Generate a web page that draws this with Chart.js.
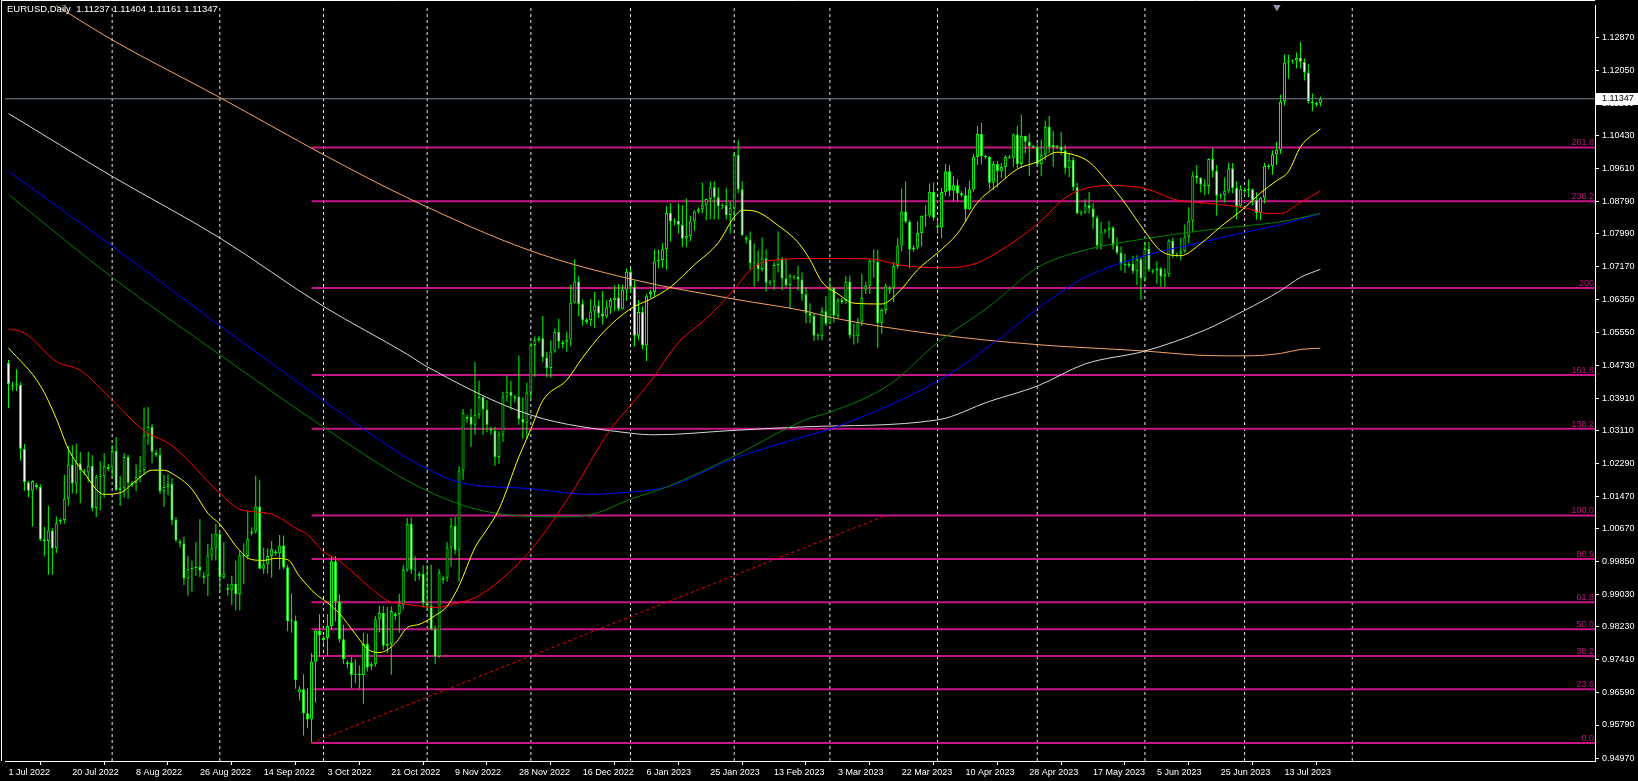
<!DOCTYPE html>
<html>
<head>
<meta charset="utf-8">
<script src="https://cdn.jsdelivr.net/npm/chart.js@4.4.1/dist/chart.umd.min.js"></script>
<style>
  html, body { margin: 0; padding: 0; background: #000; overflow: hidden; }
  #wrap { position: relative; width: 1638px; height: 781px; }
</style>
</head>
<body>
<div id="wrap"><canvas id="chart" width="1638" height="781"></canvas></div>
<script>
// EURUSD daily, one entry per bar (Sunday bars included), bar 0 = 1 Jul 2022
const opens = [
  1.0479,1.0420,1.0423,1.0424,1.0265,1.0182,1.0161,1.0175,1.0170,1.0040,
  1.0036,1.0062,1.0018,1.0085,1.0088,1.0141,1.0226,1.0179,1.0229,1.0208,
  1.0206,1.0223,1.0118,1.0196,1.0197,1.0220,1.0219,1.0260,1.0163,1.0167,
  1.0245,1.0175,1.0180,1.0195,1.0212,1.0298,1.0320,1.0255,1.0250,1.0160,
  1.0170,1.0178,1.0088,1.0035,1.0030,0.9943,0.9966,0.9969,0.9972,0.9945,
  0.9950,1.0000,1.0018,1.0054,0.9946,0.9920,0.9915,0.9930,0.9904,1.0001,
  0.9999,1.0055,1.0060,1.0122,0.9967,0.9978,0.9999,1.0010,1.0005,1.0025,
  0.9971,0.9837,0.9838,0.9660,0.9668,0.9608,0.9593,0.9736,0.9814,0.9790,
  0.9795,0.9825,0.9986,0.9886,0.9792,0.9730,0.9735,0.9704,0.9706,0.9703,
  0.9780,0.9725,0.9730,0.9842,0.9857,0.9776,0.9780,0.9850,0.9855,0.9878,
  0.9965,1.0079,0.9965,0.9950,0.9955,0.9882,0.9875,0.9817,0.9749,0.9940,
  0.9945,1.0020,1.0074,1.0013,1.0211,1.0340,1.0345,1.0325,1.0350,1.0394,
  1.0363,1.0315,1.0310,1.0245,1.0301,1.0395,1.0407,1.0390,1.0395,1.0339,
  1.0330,1.0405,1.0523,1.0535,1.0540,1.0492,1.0466,1.0507,1.0556,1.0525,
  1.0530,1.0537,1.0628,1.0681,1.0625,1.0580,1.0585,1.0606,1.0621,1.0601,
  1.0594,1.0617,1.0635,1.0641,1.0613,1.0660,1.0705,1.0668,1.0546,1.0605,
  1.0522,1.0650,1.0655,1.0731,1.0734,1.0761,1.0851,1.0830,1.0832,1.0822,
  1.0787,1.0794,1.0830,1.0855,1.0860,1.0870,1.0886,1.0915,1.0890,1.0868,
  1.0870,1.0846,1.0863,1.0995,1.0910,1.0790,1.0785,1.0727,1.0726,1.0712,
  1.0738,1.0678,1.0680,1.0722,1.0738,1.0688,1.0672,1.0690,1.0692,1.0686,
  1.0649,1.0602,1.0596,1.0546,1.0545,1.0607,1.0576,1.0666,1.0596,1.0630,
  1.0635,1.0681,1.0547,1.0545,1.0581,1.0660,1.0670,1.0733,1.0730,1.0577,
  1.0610,1.0660,1.0665,1.0719,1.0770,1.0855,1.0829,1.0760,1.0765,1.0801,
  1.0844,1.0845,1.0904,1.0820,1.0815,1.0903,1.0955,1.0906,1.0920,1.0900,
  1.0895,1.0860,1.0910,1.0990,1.1047,1.0990,1.0990,1.0926,1.0973,1.0955,
  1.0965,1.0990,1.0988,1.1046,1.0973,1.1042,1.1028,1.1015,1.1015,1.0973,
  1.0996,1.1065,1.1015,1.1015,1.1015,1.1006,1.0962,1.0983,1.0915,1.0850,
  1.0852,1.0870,1.0862,1.0840,1.0770,1.0805,1.0808,1.0815,1.0770,1.0752,
  1.0724,1.0720,1.0725,1.0706,1.0736,1.0688,1.0762,1.0705,1.0708,1.0713,
  1.0693,1.0699,1.0782,1.0748,1.0750,1.0756,1.0792,1.0832,1.0944,1.0938,
  1.0922,1.0918,1.0985,1.0956,1.0894,1.0895,1.0906,1.0962,1.0913,1.0868,
  1.0905,1.0908,1.0910,1.0883,1.0851,1.0889,1.0965,1.0968,1.0997,1.1008,
  1.1128,1.1225,1.1228,1.1230,1.1236,1.1227,1.1200,1.1128,1.1120,1.11237
];
const highs = [
  1.0486,1.0432,1.0463,1.0430,1.0277,1.0185,1.0187,1.0180,1.0177,1.0071,
  1.0124,1.0068,1.0097,1.0092,1.0201,1.0272,1.0274,1.0278,1.0257,1.0215,
  1.0258,1.0249,1.0201,1.0234,1.0254,1.0228,1.0274,1.0294,1.0197,1.0254,
  1.0250,1.0185,1.0227,1.0247,1.0368,1.0369,1.0327,1.0262,1.0267,1.0200,
  1.0202,1.0192,1.0096,1.0040,1.0047,0.9999,0.9988,1.0033,1.0090,0.9960,
  1.0029,1.0055,1.0079,1.0057,1.0033,0.9930,0.9950,0.9988,1.0011,1.0030,
  1.0112,1.0070,1.0198,1.0187,1.0020,1.0018,1.0036,1.0015,1.0051,1.0050,
  0.9977,0.9906,0.9851,0.9675,0.9705,0.9671,0.9757,0.9816,0.9854,0.9800,
  0.9855,0.9999,0.9999,0.9903,0.9828,0.9740,0.9748,0.9742,0.9727,0.9808,
  0.9806,0.9735,0.9850,0.9875,0.9875,0.9873,0.9874,0.9860,0.9905,0.9976,
  1.0093,1.0094,0.9998,0.9960,0.9976,0.9976,0.9977,0.9826,0.9966,0.9950,
  1.0033,1.0094,1.0096,1.0222,1.0364,1.0350,1.0364,1.0481,1.0435,1.0394,
  1.0386,1.0320,1.0320,1.0310,1.0407,1.0448,1.0434,1.0400,1.0497,1.0393,
  1.0429,1.0529,1.0545,1.0545,1.0595,1.0506,1.0534,1.0564,1.0588,1.0535,
  1.0556,1.0673,1.0736,1.0695,1.0637,1.0590,1.0637,1.0655,1.0634,1.0657,
  1.0634,1.0640,1.0671,1.0675,1.0673,1.0713,1.0712,1.0683,1.0635,1.0619,
  1.0650,1.0660,1.0760,1.0760,1.0776,1.0868,1.0875,1.0838,1.0875,1.0870,
  1.0887,1.0844,1.0858,1.0865,1.0927,1.0887,1.0929,1.0930,1.0915,1.0875,
  1.0914,1.0878,1.1000,1.1033,1.0930,1.0795,1.0805,1.0775,1.0758,1.0790,
  1.0760,1.0685,1.0730,1.0805,1.0741,1.0738,1.0700,1.0697,1.0720,1.0703,
  1.0667,1.0627,1.0601,1.0552,1.0617,1.0645,1.0691,1.0667,1.0640,1.0640,
  1.0694,1.0696,1.0575,1.0590,1.0700,1.0680,1.0736,1.0760,1.0759,1.0615,
  1.0676,1.0670,1.0730,1.0788,1.0912,1.0930,1.0834,1.0770,1.0830,1.0845,
  1.0870,1.0924,1.0927,1.0830,1.0914,1.0973,1.0970,1.0943,1.0935,1.0905,
  1.0915,1.0931,1.0998,1.1068,1.1075,1.0995,1.0992,1.0980,1.0980,1.0975,
  1.0995,1.0995,1.1049,1.1067,1.1095,1.1043,1.1048,1.1020,1.1024,1.1033,
  1.1080,1.1092,1.1055,1.1020,1.1053,1.1020,1.1000,1.0990,1.0927,1.0858,
  1.0885,1.0903,1.0876,1.0845,1.0829,1.0812,1.0831,1.0818,1.0790,1.0768,
  1.0750,1.0730,1.0745,1.0746,1.0740,1.0779,1.0779,1.0712,1.0731,1.0717,
  1.0714,1.0786,1.0790,1.0752,1.0790,1.0823,1.0865,1.0954,1.0970,1.0940,
  1.0935,1.0987,1.1012,1.0970,1.0900,1.0939,1.0976,1.0975,1.0930,1.0920,
  1.0912,1.0935,1.0912,1.0902,1.0890,1.0976,1.0972,1.1006,1.1028,1.1145,
  1.1245,1.1244,1.1232,1.1250,1.1276,1.1234,1.1222,1.1148,1.1128,1.11404
];
const lows = [
  1.0366,1.0410,1.0409,1.0236,1.0161,1.0144,1.0072,1.0165,1.0036,0.9998,
  0.9952,0.9952,1.0006,1.0078,1.0079,1.0124,1.0154,1.0153,1.0130,1.0200,
  1.0182,1.0110,1.0095,1.0112,1.0144,1.0210,1.0193,1.0160,1.0123,1.0144,
  1.0141,1.0170,1.0160,1.0182,1.0201,1.0275,1.0229,1.0245,1.0153,1.0121,
  1.0150,1.0076,1.0033,1.0020,0.9927,0.9900,0.9910,0.9950,0.9946,0.9930,
  0.9900,0.9988,0.9988,0.9910,0.9942,0.9900,0.9877,0.9864,0.9864,0.9929,
  0.9990,1.0050,1.0055,0.9966,0.9955,0.9955,0.9945,1.0000,0.9966,0.9966,
  0.9812,0.9808,0.9669,0.9640,0.9553,0.9571,0.9536,0.9635,0.9749,0.9780,
  0.9751,0.9815,0.9836,0.9784,0.9731,0.9720,0.9671,0.9683,0.9670,0.9632,
  0.9712,0.9715,0.9724,0.9809,0.9766,0.9757,0.9704,0.9840,0.9808,0.9866,
  0.9960,0.9954,0.9937,0.9940,0.9871,0.9862,0.9815,0.9730,0.9746,0.9930,
  0.9935,0.9972,1.0003,0.9935,1.0188,1.0330,1.0270,1.0300,1.0340,1.0300,
  1.0306,1.0300,1.0223,1.0228,1.0282,1.0382,1.0363,1.0380,1.0325,1.0290,
  1.0290,1.0391,1.0444,1.0530,1.0480,1.0443,1.0442,1.0504,1.0514,1.0515,
  1.0506,1.0520,1.0626,1.0594,1.0570,1.0575,1.0570,1.0566,1.0590,1.0574,
  1.0590,1.0600,1.0607,1.0607,1.0611,1.0633,1.0652,1.0519,1.0535,1.0512,
  1.0483,1.0640,1.0643,1.0713,1.0715,1.0710,1.0780,1.0820,1.0800,1.0767,
  1.0766,1.0781,1.0807,1.0850,1.0850,1.0833,1.0836,1.0835,1.0835,1.0860,
  1.0835,1.0800,1.0835,1.0900,1.0794,1.0775,1.0710,1.0668,1.0680,1.0705,
  1.0656,1.0670,1.0660,1.0703,1.0659,1.0666,1.0613,1.0685,1.0659,1.0633,
  1.0577,1.0577,1.0533,1.0535,1.0535,1.0570,1.0576,1.0579,1.0590,1.0625,
  1.0625,1.0540,1.0524,1.0528,1.0570,1.0650,1.0650,1.0690,1.0516,1.0551,
  1.0600,1.0650,1.0630,1.0713,1.0756,1.0826,1.0713,1.0755,1.0760,1.0768,
  1.0817,1.0840,1.0832,1.0800,1.0788,1.0894,1.0892,1.0880,1.0880,1.0890,
  1.0831,1.0858,1.0904,1.0970,1.0972,1.0985,1.0910,1.0909,1.0915,1.0937,
  1.0937,1.0985,1.0966,1.0962,1.0963,1.0999,1.0943,1.1010,1.0966,1.0942,
  1.0982,1.1000,1.0966,1.1010,1.0995,1.0948,1.0940,1.0906,1.0848,1.0845,
  1.0849,1.0849,1.0811,1.0760,1.0760,1.0800,1.0788,1.0760,1.0748,1.0708,
  1.0702,1.0715,1.0700,1.0672,1.0635,1.0680,1.0705,1.0700,1.0675,1.0667,
  1.0667,1.0692,1.0740,1.0742,1.0733,1.0752,1.0775,1.0803,1.0924,1.0902,
  1.0895,1.0898,1.0939,1.0845,1.0885,1.0877,1.0900,1.0900,1.0835,1.0864,
  1.0900,1.0890,1.0870,1.0835,1.0833,1.0875,1.0960,1.0946,1.0970,1.0998,
  1.1118,1.1185,1.1222,1.1210,1.1210,1.1180,1.1123,1.1104,1.1115,1.11161
];
const closes = [
  1.0426,1.0423,1.0424,1.0265,1.0182,1.0161,1.0185,1.0170,1.0040,1.0036,
  1.0062,1.0018,1.0080,1.0088,1.0141,1.0226,1.0179,1.0229,1.0212,1.0206,
  1.0223,1.0118,1.0196,1.0197,1.0222,1.0215,1.0260,1.0163,1.0167,1.0245,
  1.0181,1.0180,1.0195,1.0212,1.0298,1.0320,1.0258,1.0250,1.0160,1.0170,
  1.0178,1.0088,1.0038,1.0030,0.9943,0.9966,0.9969,0.9972,0.9963,0.9950,
  1.0000,1.0018,1.0054,0.9946,0.9955,0.9915,0.9930,0.9904,1.0001,0.9999,
  1.0042,1.0060,1.0122,0.9967,0.9978,0.9999,1.0016,1.0005,1.0025,0.9971,
  0.9837,0.9838,0.9690,0.9668,0.9608,0.9593,0.9736,0.9814,0.9802,0.9795,
  0.9825,0.9986,0.9886,0.9792,0.9743,0.9735,0.9704,0.9706,0.9703,0.9780,
  0.9722,0.9730,0.9842,0.9857,0.9776,0.9780,0.9862,0.9855,0.9878,0.9965,
  1.0079,0.9965,0.9966,0.9955,0.9882,0.9875,0.9817,0.9749,0.9958,0.9945,
  1.0020,1.0074,1.0013,1.0211,1.0355,1.0345,1.0325,1.0350,1.0394,1.0363,
  1.0325,1.0310,1.0245,1.0301,1.0395,1.0407,1.0397,1.0395,1.0339,1.0330,
  1.0405,1.0523,1.0535,1.0540,1.0492,1.0466,1.0507,1.0556,1.0531,1.0530,
  1.0537,1.0628,1.0681,1.0625,1.0585,1.0585,1.0606,1.0621,1.0601,1.0594,
  1.0617,1.0635,1.0641,1.0613,1.0660,1.0705,1.0668,1.0546,1.0605,1.0522,
  1.0644,1.0655,1.0731,1.0734,1.0761,1.0851,1.0830,1.0832,1.0822,1.0787,
  1.0794,1.0830,1.0855,1.0860,1.0870,1.0886,1.0915,1.0890,1.0868,1.0870,
  1.0846,1.0863,1.0995,1.0910,1.0796,1.0785,1.0727,1.0726,1.0712,1.0738,
  1.0678,1.0680,1.0722,1.0738,1.0688,1.0672,1.0695,1.0692,1.0686,1.0649,
  1.0602,1.0596,1.0546,1.0545,1.0607,1.0576,1.0666,1.0596,1.0634,1.0635,
  1.0681,1.0547,1.0545,1.0581,1.0641,1.0670,1.0733,1.0730,1.0577,1.0610,
  1.0669,1.0665,1.0719,1.0770,1.0855,1.0829,1.0760,1.0765,1.0801,1.0844,
  1.0845,1.0904,1.0839,1.0815,1.0903,1.0955,1.0906,1.0920,1.0900,1.0895,
  1.0860,1.0910,1.0990,1.1047,1.0992,1.0990,1.0926,1.0973,1.0955,1.0965,
  1.0990,1.0988,1.1046,1.0973,1.1042,1.1028,1.1017,1.1015,1.0973,1.0996,
  1.1065,1.1015,1.1020,1.1015,1.1006,1.0962,1.0983,1.0915,1.0850,1.0852,
  1.0870,1.0862,1.0840,1.0770,1.0805,1.0808,1.0815,1.0770,1.0752,1.0724,
  1.0722,1.0725,1.0706,1.0736,1.0688,1.0762,1.0710,1.0708,1.0713,1.0693,
  1.0699,1.0782,1.0748,1.0750,1.0756,1.0792,1.0832,1.0944,1.0938,1.0922,
  1.0918,1.0985,1.0956,1.0894,1.0895,1.0906,1.0962,1.0913,1.0868,1.0910,
  1.0908,1.0910,1.0883,1.0851,1.0889,1.0968,1.0968,1.0997,1.1008,1.1128,
  1.1225,1.1228,1.1230,1.1236,1.1227,1.1200,1.1128,1.1124,1.1124,1.11347
];

// moving averages: [bar, price]
const yellowMA = [[0,1.0516],[8,1.0422],[12,1.0340],[15,1.0265],[19,1.0205],[24,1.0152],[28,1.0156],[32,1.0186],[36,1.0212],[39,1.0212],[41,1.0204],[46,1.0165],[50,1.0105],[53,1.0078],[58,1.0012],[61,0.9990],[64,0.9988],[67,0.9993],[70,0.9990],[73,0.9948],[77,0.9905],[80,0.9883],[83,0.9856],[87,0.9805],[90,0.9768],[93,0.9759],[97,0.9782],[100,0.9821],[103,0.9829],[107,0.9851],[110,0.9874],[113,0.9925],[117,1.0020],[120,1.0065],[123,1.0115],[128,1.0245],[131,1.0314],[134,1.0385],[140,1.0436],[144,1.0492],[149,1.0553],[156,1.0613],[161,1.0637],[166,1.0667],[172,1.0722],[178,1.0777],[182,1.0841],[184,1.0858],[188,1.0853],[193,1.0820],[198,1.0778],[201,1.0735],[204,1.0680],[208,1.0650],[212,1.0627],[219,1.0625],[223,1.0652],[228,1.0710],[233,1.0752],[238,1.0800],[243,1.0877],[248,1.0920],[253,1.0960],[258,1.0978],[263,1.1002],[267,1.0996],[271,1.0978],[275,1.0936],[279,1.0889],[285,1.0805],[289,1.0757],[294,1.0745],[299,1.0775],[304,1.0817],[310,1.0864],[314,1.0901],[318,1.0931],[321,1.0954],[324,1.1015],[329,1.1060]];
const redMA = [[0,1.0563],[4,1.0553],[12,1.0482],[18,1.0460],[26,1.0387],[34,1.0310],[41,1.0273],[53,1.0155],[58,1.0115],[66,1.0103],[72,1.0068],[75,1.0052],[79,1.0010],[83,0.9986],[91,0.9918],[95,0.9888],[100,0.9879],[107,0.9871],[113,0.9883],[117,0.9895],[123,0.9936],[131,1.0014],[141,1.0152],[151,1.0314],[156,1.0373],[161,1.0433],[168,1.0529],[175,1.0589],[182,1.0661],[186,1.0709],[191,1.0733],[202,1.0738],[216,1.0737],[224,1.0721],[233,1.0715],[241,1.0721],[249,1.0759],[258,1.0823],[266,1.0895],[276,1.0919],[285,1.0912],[293,1.0883],[302,1.0874],[310,1.0864],[316,1.0850],[319,1.0850],[324,1.0877],[329,1.0906]];
const greenMA = [[0,1.0897],[26,1.0691],[53,1.0499],[79,1.0319],[100,1.0186],[113,1.0128],[123,1.0104],[140,1.0096],[147,1.0104],[156,1.0140],[165,1.0170],[182,1.0247],[200,1.0338],[206,1.0356],[221,1.0425],[233,1.0529],[246,1.0619],[258,1.0715],[270,1.0759],[285,1.0787],[300,1.0808],[310,1.0819],[319,1.0829],[329,1.0850]];
const blueMA = [[0,1.0954],[26,1.0769],[53,1.0571],[79,1.0385],[100,1.0242],[105,1.0215],[113,1.0182],[131,1.0166],[146,1.0152],[156,1.0158],[165,1.0170],[182,1.0241],[200,1.0297],[206,1.0314],[233,1.0433],[248,1.0535],[258,1.0613],[270,1.0691],[285,1.0745],[300,1.0780],[310,1.0803],[319,1.0822],[329,1.0849]];
const whiteMA = [[0,1.1098],[26,1.0942],[53,1.0789],[79,1.0619],[100,1.0500],[105,1.0469],[131,1.0349],[156,1.0304],[162,1.0300],[182,1.0311],[200,1.0320],[233,1.0337],[246,1.0383],[258,1.0421],[270,1.0476],[285,1.0508],[300,1.0560],[310,1.0609],[319,1.0658],[324,1.0691],[329,1.0711]];
const orangeMA = [[12,1.1366],[26,1.1281],[53,1.1138],[79,1.0996],[100,1.0889],[131,1.0757],[156,1.0687],[182,1.0637],[200,1.0607],[206,1.0592],[233,1.0549],[258,1.0524],[285,1.0508],[300,1.0497],[310,1.0496],[319,1.0502],[324,1.0512],[329,1.0515]];

// axis labels
const labelBars = [0,16,32,48,64,80,96,112,128,144,160,176,192,208,224,240,256,272,288,304,320];
const labelText = ['1 Jul 2022','20 Jul 2022','8 Aug 2022','26 Aug 2022','14 Sep 2022','3 Oct 2022','21 Oct 2022','9 Nov 2022','28 Nov 2022','16 Dec 2022','6 Jan 2023','25 Jan 2023','13 Feb 2023','3 Mar 2023','22 Mar 2023','10 Apr 2023','28 Apr 2023','17 May 2023','5 Jun 2023','25 Jun 2023','13 Jul 2023'];
const monthBars = [26,53,79,105,131,156,182,206,233,258,285,310,337];
const yTicks = [1.12870,1.12050,1.11230,1.10430,1.09610,1.08790,1.07990,1.07170,1.06350,1.05550,1.04730,1.03910,1.03110,1.02290,1.01470,1.00670,0.99850,0.99030,0.98230,0.97410,0.96590,0.95790,0.94970];

// fibonacci object
const fibLevels = ['0.0','23.6','38.2','50.0','61.8','80.9','100.0','138.2','161.8','200','238.2','261.8'];
const fibPrices = [0.95345,0.96678,0.97503,0.98170,0.98837,0.99916,1.00995,1.03153,1.04487,1.06645,1.08803,1.10137];
const fibFrom = [76, 0.95345];
const fibTo = [220, 1.00995];

const lastPrice = 1.11347;
const titleText = 'EURUSD,Daily  1.11237 1.11404 1.11161 1.11347';

const X_MIN = -0.875, X_MAX = 397.875;
const Y_MIN = 0.94896, Y_MAX = 1.13677;
const FONT = { family: "'Liberation Sans', Arial, sans-serif", size: 9 };
const FONT_CSS = "9px 'Liberation Sans', Arial, sans-serif";
const TITLE_CSS = "9.5px 'Liberation Sans', Arial, sans-serif";
const LIME = '#00ff00';

const bars = closes.map((_, i) => i);
const wickData = bars.map(i => ({ x: i, y: [lows[i], highs[i]] }));
const bodyData = bars.map(i => ({ x: i, y: [opens[i], closes[i]] }));
const bodyFill = bars.map(i => closes[i] < opens[i] ? '#ffffff' : '#000000');

const gridData = [];
monthBars.forEach(b => gridData.push({ x: b, y: Y_MIN }, { x: b, y: Y_MAX }, { x: b, y: null }));
const fibData = [];
fibPrices.forEach(p => fibData.push({ x: fibFrom[0], y: p }, { x: X_MAX, y: p }, { x: X_MAX, y: null }));

const pts = arr => arr.map(([x, y]) => ({ x, y }));

function maLine(arr, color) {
    return {
        type: 'line', data: pts(arr), borderColor: color, borderWidth: 1,
        pointRadius: 0, cubicInterpolationMode: 'monotone', order: 1
    };
}

const overlay = {
    id: 'overlay',
    afterDatasetsDraw(chart) {
        const { ctx, chartArea: a, scales: { y } } = chart;
        ctx.save();
        ctx.font = FONT_CSS;
        ctx.fillStyle = '#b8157c';
        ctx.textAlign = 'right';
        ctx.textBaseline = 'alphabetic';
        fibPrices.forEach((p, k) => {
            ctx.fillText(fibLevels[k], a.right - 1, Math.round(y.getPixelForValue(p)) - 2);
        });
        ctx.restore();
    },
    afterDraw(chart) {
        const { ctx, chartArea: a, scales: { y } } = chart;
        ctx.save();
        // chart frame
        ctx.strokeStyle = '#ffffff';
        ctx.lineWidth = 1;
        ctx.beginPath();
        ctx.moveTo(1.5, a.bottom);
        ctx.lineTo(1.5, 0.5);
        ctx.lineTo(a.right, 0.5);
        ctx.stroke();
        // title
        ctx.font = TITLE_CSS;
        ctx.fillStyle = '#ffffff';
        ctx.textAlign = 'left';
        ctx.textBaseline = 'middle';
        ctx.fillText(titleText, 7, 9);
        // current price box on the axis
        ctx.font = FONT_CSS;
        const py = Math.round(y.getPixelForValue(lastPrice));
        ctx.fillStyle = '#ffffff';
        ctx.fillRect(a.right + 1, py - 6, 42, 12);
        ctx.fillStyle = '#000000';
        ctx.fillText(lastPrice.toFixed(5), a.right + 7, py);
        ctx.restore();
    }
};

new Chart(document.getElementById('chart'), {
    type: 'line',
    data: {
        datasets: [
            maLine(yellowMA, '#ffff00'),
            maLine(redMA, '#ff0000'),
            maLine(greenMA, '#008000'),
            maLine(blueMA, '#0000ff'),
            maLine(whiteMA, '#d8d8d8'),
            maLine(orangeMA, '#f4a460'),
            {
                type: 'line', data: [{ x: X_MIN, y: lastPrice }, { x: X_MAX, y: lastPrice }],
                borderColor: '#778899', borderWidth: 1, pointRadius: 0, order: 2
            },
            {
                type: 'bar', data: bodyData, backgroundColor: bodyFill, borderColor: LIME,
                borderWidth: 1, borderSkipped: false, grouped: false, barPercentage: 1,
                maxBarThickness: 3, minBarLength: 1, inflateAmount: 0, order: 3
            },
            {
                type: 'bar', data: wickData, backgroundColor: LIME, borderWidth: 0,
                grouped: false, barPercentage: 1, maxBarThickness: 1, inflateAmount: 0, order: 4
            },
            {
                type: 'line', data: [{ x: fibFrom[0], y: fibFrom[1] }, { x: fibTo[0], y: fibTo[1] }],
                borderColor: '#ff0000', borderWidth: 1, borderDash: [3, 3], pointRadius: 0, order: 5
            },
            {
                type: 'line', data: fibData, borderColor: '#c71585', borderWidth: 2,
                pointRadius: 0, spanGaps: false, order: 6
            },
            {
                type: 'line', data: gridData, borderColor: '#e8e8e8', borderWidth: 1,
                borderDash: [3, 3], pointRadius: 0, spanGaps: false, order: 7
            },
            {
                type: 'line', data: [{ x: 318.1, y: 1.1364 }], showLine: false,
                pointStyle: 'triangle', rotation: 180, pointRadius: 5,
                pointBackgroundColor: '#8c97a5', pointBorderWidth: 0, order: 0
            }
        ]
    },
    options: {
        responsive: false,
        animation: false,
        devicePixelRatio: 1,
        layout: { padding: 0 },
        events: [],
        plugins: { legend: { display: false }, tooltip: { enabled: false } },
        scales: {
            x: {
                type: 'linear', min: X_MIN, max: X_MAX, offset: false, bounds: 'data',
                grid: { drawOnChartArea: false, color: '#ffffff', tickLength: 4 },
                border: { color: '#ffffff', width: 1 },
                ticks: {
                    color: '#ffffff', font: FONT, padding: 2, align: 'start',
                    autoSkip: false, maxRotation: 0, minRotation: 0,
                    callback: v => { const k = labelBars.indexOf(v); return k >= 0 ? labelText[k] : ''; }
                },
                afterBuildTicks: s => { s.ticks = labelBars.map(v => ({ value: v })); },
                afterFit: s => { s.height = 20; s.paddingLeft = 0; s.paddingRight = 0; }
            },
            y: {
                type: 'linear', position: 'right', min: Y_MIN, max: Y_MAX, bounds: 'data',
                grid: { drawOnChartArea: false, color: '#ffffff', tickLength: 4 },
                border: { color: '#ffffff', width: 1 },
                ticks: {
                    color: '#ffffff', font: FONT, padding: 3, autoSkip: false,
                    callback: v => v.toFixed(5)
                },
                afterBuildTicks: s => { s.ticks = yTicks.map(v => ({ value: v })); },
                afterFit: s => { s.width = 43; s.paddingTop = 0; s.paddingBottom = 0; }
            }
        }
    },
    plugins: [overlay]
});
</script>
</body>
</html>
